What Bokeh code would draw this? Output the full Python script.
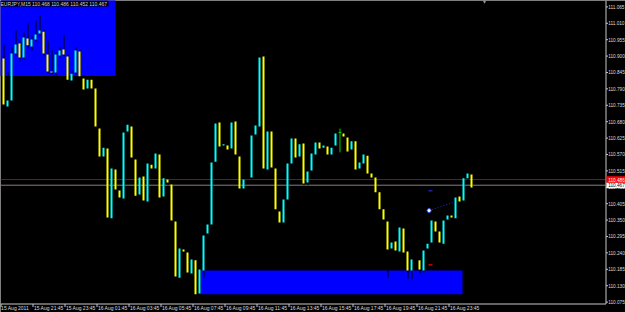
from bokeh.plotting import figure
from bokeh.models import Range1d, Label
from bokeh.core.properties import value
from bokeh.embed import file_html
from bokeh.resources import INLINE

# ---------------- data (EURJPY, M15) ----------------
opens = [110.892, 110.731, 110.751, 110.909, 110.942, 110.895, 110.959, 110.932, 110.956, 110.976,
         110.982, 110.905, 110.848, 110.845, 110.902, 110.922, 110.899, 110.818, 110.845, 110.915,
         110.825, 110.791, 110.821, 110.791, 110.657, 110.563, 110.590, 110.356, 110.520, 110.449,
         110.422, 110.647, 110.664, 110.553, 110.436, 110.496, 110.412, 110.536, 110.523, 110.570,
         110.429, 110.486, 110.469, 110.345, 110.157, 110.251, 110.241, 110.171, 110.215, 110.104,
         110.181, 110.305, 110.335, 110.546, 110.677, 110.600, 110.600, 110.590, 110.681, 110.563,
         110.456, 110.493, 110.493, 110.637, 110.664, 110.899, 110.520, 110.647, 110.523, 110.379,
         110.342, 110.419, 110.540, 110.624, 110.563, 110.607, 110.476, 110.516, 110.570, 110.610,
         110.593, 110.597, 110.570, 110.600, 110.644, 110.640, 110.627, 110.587, 110.614, 110.523,
         110.540, 110.566, 110.506, 110.493, 110.443, 110.386, 110.345, 110.255, 110.278, 110.245,
         110.322, 110.245, 110.181, 110.215, 110.215, 110.181, 110.255, 110.275, 110.345, 110.312,
         110.271, 110.352, 110.365, 110.356, 110.429, 110.416, 110.490, 110.503]
highs = [110.936, 110.845, 110.929, 110.986, 110.952, 110.979, 111.009, 110.966, 111.019, 111.036,
         110.989, 110.952, 110.919, 110.912, 110.929, 110.969, 110.905, 110.852, 110.929, 110.922,
         110.835, 110.828, 110.832, 110.798, 110.664, 110.604, 110.597, 110.533, 110.530, 110.459,
         110.654, 110.681, 110.674, 110.560, 110.503, 110.506, 110.550, 110.546, 110.583, 110.580,
         110.496, 110.496, 110.479, 110.352, 110.265, 110.261, 110.248, 110.228, 110.221, 110.194,
         110.308, 110.345, 110.550, 110.684, 110.687, 110.614, 110.610, 110.687, 110.691, 110.573,
         110.496, 110.493, 110.644, 110.677, 110.902, 110.905, 110.657, 110.657, 110.533, 110.389,
         110.426, 110.550, 110.634, 110.634, 110.614, 110.617, 110.523, 110.583, 110.620, 110.620,
         110.610, 110.607, 110.604, 110.650, 110.657, 110.650, 110.637, 110.624, 110.624, 110.553,
         110.580, 110.577, 110.516, 110.503, 110.453, 110.396, 110.356, 110.285, 110.288, 110.335,
         110.332, 110.255, 110.228, 110.215, 110.225, 110.258, 110.282, 110.359, 110.356, 110.322,
         110.359, 110.376, 110.376, 110.436, 110.439, 110.500, 110.516, 110.506]
lows = [110.728, 110.724, 110.744, 110.902, 110.885, 110.889, 110.926, 110.919, 110.949, 110.969,
        110.899, 110.841, 110.838, 110.835, 110.895, 110.899, 110.815, 110.811, 110.838, 110.825,
        110.781, 110.785, 110.785, 110.657, 110.556, 110.556, 110.352, 110.345, 110.443, 110.416,
        110.416, 110.637, 110.550, 110.426, 110.426, 110.409, 110.406, 110.513, 110.516, 110.419,
        110.419, 110.466, 110.342, 110.154, 110.147, 110.235, 110.168, 110.161, 110.097, 110.097,
        110.157, 110.295, 110.328, 110.540, 110.590, 110.590, 110.580, 110.583, 110.563, 110.449,
        110.449, 110.493, 110.486, 110.630, 110.657, 110.516, 110.510, 110.516, 110.379, 110.335,
        110.332, 110.412, 110.533, 110.553, 110.556, 110.466, 110.466, 110.510, 110.563, 110.583,
        110.583, 110.563, 110.563, 110.593, 110.577, 110.620, 110.573, 110.580, 110.513, 110.516,
        110.533, 110.500, 110.486, 110.436, 110.379, 110.345, 110.157, 110.245, 110.241, 110.238,
        110.235, 110.154, 110.151, 110.215, 110.171, 110.174, 110.248, 110.268, 110.305, 110.268,
        110.265, 110.345, 110.352, 110.349, 110.406, 110.409, 110.483, 110.456]
closes = [110.738, 110.751, 110.909, 110.939, 110.895, 110.962, 110.936, 110.956, 110.972, 110.986,
          110.909, 110.848, 110.845, 110.905, 110.919, 110.905, 110.821, 110.841, 110.919, 110.832,
          110.788, 110.821, 110.791, 110.664, 110.563, 110.593, 110.359, 110.523, 110.453, 110.426,
          110.644, 110.670, 110.560, 110.432, 110.493, 110.416, 110.540, 110.523, 110.573, 110.426,
          110.490, 110.476, 110.349, 110.161, 110.255, 110.245, 110.174, 110.218, 110.101, 110.184,
          110.298, 110.335, 110.543, 110.674, 110.597, 110.604, 110.587, 110.677, 110.570, 110.456,
          110.486, 110.493, 110.634, 110.667, 110.895, 110.523, 110.647, 110.526, 110.386, 110.342,
          110.419, 110.540, 110.624, 110.560, 110.604, 110.473, 110.513, 110.573, 110.610, 110.590,
          110.600, 110.570, 110.593, 110.640, 110.644, 110.630, 110.580, 110.614, 110.520, 110.543,
          110.570, 110.506, 110.493, 110.443, 110.386, 110.352, 110.251, 110.275, 110.248, 110.325,
          110.241, 110.181, 110.218, 110.215, 110.184, 110.248, 110.271, 110.349, 110.312, 110.275,
          110.349, 110.365, 110.359, 110.426, 110.412, 110.490, 110.506, 110.459]

time_labels = ["15 Aug 2011", "15 Aug 21:45", "15 Aug 23:45", "16 Aug 01:45", "16 Aug 03:45",
               "16 Aug 05:45", "16 Aug 07:45", "16 Aug 09:45", "16 Aug 11:45", "16 Aug 13:45",
               "16 Aug 15:45", "16 Aug 17:45", "16 Aug 19:45", "16 Aug 21:45", "16 Aug 23:45"]
time_tick_bars = [-0.75 + 8 * i for i in range(15)]

price_ticks = [round(110.075 + 0.055 * i, 3) for i in range(19)]
price_labels = ["%.3f" % t for t in price_ticks]

# zones (rectangle objects): bar_left, bar_right, price_bottom, price_top
zone_left = [-1.0, 49.25]
zone_right = [28.0, 114.75]
zone_bottom = [110.833, 110.1015]
zone_top = [111.2, 110.181]

ask_price = 110.486
bid_price = 110.467
ask_text = "110.486"
bid_text = "110.467"
header_text = "EURJPY,M15  110.468 110.486 110.452 110.467"

trend_x = [106.4, 112.6]
trend_y = [110.382, 110.410]
tp_price = 110.448
sl_price = 110.200
mark_x = [106.25, 107.25]
shift_marker_bar = 120.25

# ---------------- layout (MT4 style: chart window with price scale at right) ----------------
X0, X1 = -0.75, 155.5            # 4 px per bar over the 625 px window
Y1 = 111.0864                    # top of window
PX = 298.2                       # px per 1.000 of price
Y0 = Y1 - 312 / PX               # bottom of window
AXIS_X = X0 + 605.5 / 4          # right scale line
AXIS_Y = Y1 - 303.5 / PX         # time scale line
FONT = value("Liberation Sans")
FG = "#c8c8c8"
TXT = "#dcdcdc"
SCALE_FS = "4.7px"

p = figure(width=625, height=312, output_backend="svg", toolbar_location=None,
           x_range=Range1d(X0, X1), y_range=Range1d(Y0, Y1),
           x_axis_location=None, y_axis_location=None,
           min_border_left=0, min_border_top=0, min_border_right=0, min_border_bottom=0,
           background_fill_color="black", border_fill_color="black", outline_line_color=None)
p.xgrid.visible = False
p.ygrid.visible = False

# zones
p.quad(left=zone_left, right=zone_right, bottom=zone_bottom, top=zone_top,
       fill_color="#0000ff", line_color=None)

# ask / bid lines
p.segment(x0=[X0, X0], x1=[AXIS_X - 0.125, AXIS_X - 0.125], y0=[ask_price, bid_price],
          y1=[ask_price, bid_price], line_color=["#b00000", "#808080"], line_width=1)

n = len(opens)
idx = list(range(n))
up = [i for i in idx if closes[i] > opens[i]]
dn = [i for i in idx if closes[i] < opens[i]]
dj = [i for i in idx if closes[i] == opens[i] and highs[i] > lows[i]]
wk = up + dn

# wicks (drawn in black, as in the reference colour scheme)
p.segment(x0=[i + 0.125 for i in wk], x1=[i + 0.125 for i in wk],
          y0=[lows[i] for i in wk], y1=[highs[i] for i in wk],
          line_color="black", line_width=1)
# bodies
p.vbar(x=up, width=0.5, bottom=[opens[i] for i in up], top=[closes[i] for i in up],
       fill_color="#00ffff", line_color=None)
p.vbar(x=dn, width=0.5, bottom=[closes[i] for i in dn], top=[opens[i] for i in dn],
       fill_color="#ffff00", line_color=None)
# doji
p.segment(x0=[i + 0.125 for i in dj], x1=[i + 0.125 for i in dj],
          y0=[lows[i] for i in dj], y1=[highs[i] for i in dj],
          line_color="#00d000", line_width=1)
p.segment(x0=[i - 0.25 for i in dj], x1=[i + 0.5 for i in dj],
          y0=[opens[i] for i in dj], y1=[opens[i] for i in dj],
          line_color="#00d000", line_width=1)

# trade objects
p.line(trend_x, trend_y, line_color="#2a2ad0", line_width=1, line_dash="1 2")
p.scatter([trend_x[0]], [trend_y[0]], size=4, marker="circle",
          fill_color="white", line_color="#3050ff", line_width=1)
p.segment(x0=[mark_x[0]], x1=[mark_x[1]], y0=[tp_price], y1=[tp_price],
          line_color="#2020b0", line_width=1.5)
p.segment(x0=[mark_x[0]], x1=[mark_x[1]], y0=[sl_price], y1=[sl_price],
          line_color="#d00000", line_width=1.5)
p.scatter([shift_marker_bar], [Y1 - 1 / PX], size=4, marker="inverted_triangle",
          fill_color="#909090", line_color=None)

# ---- price scale (right) ----
p.segment(x0=[AXIS_X], x1=[AXIS_X], y0=[AXIS_Y], y1=[Y1], line_color=FG, line_width=1)
p.segment(x0=[AXIS_X] * len(price_ticks), x1=[AXIS_X + 0.5] * len(price_ticks),
          y0=price_ticks, y1=price_ticks, line_color=FG, line_width=1)
p.text(x=[AXIS_X + 0.55] * len(price_ticks), y=price_ticks, text=price_labels,
       text_font=FONT, text_font_size=value(SCALE_FS), text_color=TXT,
       text_align="left", text_baseline="middle")

# ---- time scale (bottom) ----
p.segment(x0=[X0], x1=[AXIS_X], y0=[AXIS_Y], y1=[AXIS_Y], line_color=FG, line_width=1)
p.segment(x0=[t + 0.125 for t in time_tick_bars], x1=[t + 0.125 for t in time_tick_bars],
          y0=[AXIS_Y] * len(time_tick_bars), y1=[AXIS_Y - 3 / PX] * len(time_tick_bars),
          line_color=FG, line_width=1)
label_x = [time_tick_bars[0] + 0.15] + [t + 0.35 for t in time_tick_bars[1:]]
p.text(x=label_x, y=[AXIS_Y - 4.2 / PX] * len(time_labels), text=time_labels,
       text_font=FONT, text_font_size=value("5px"), text_color=TXT,
       text_align="left", text_baseline="middle")

# header
p.add_layout(Label(x=X0, y=Y1, text=header_text,
                   text_font="Liberation Sans", text_font_size="5px", text_color="#d0d0d0",
                   background_fill_color="black", text_baseline="top", text_align="left"))

# ask / bid price tags on the scale
p.quad(left=[AXIS_X + 0.125, AXIS_X + 0.125], right=[X1, X1],
       bottom=[bid_price - 3.0 / PX, ask_price - 3.3 / PX],
       top=[bid_price + 3.0 / PX, ask_price + 3.3 / PX],
       fill_color=["white", "#ff0000"], line_color=None)
p.text(x=[AXIS_X + 0.55, AXIS_X + 0.55], y=[bid_price, ask_price], text=[bid_text, ask_text],
       text_font=FONT, text_font_size=value(SCALE_FS), text_color=["black", "white"],
       text_align="left", text_baseline="middle")

open("out.html", "w").write(file_html(p, INLINE))
